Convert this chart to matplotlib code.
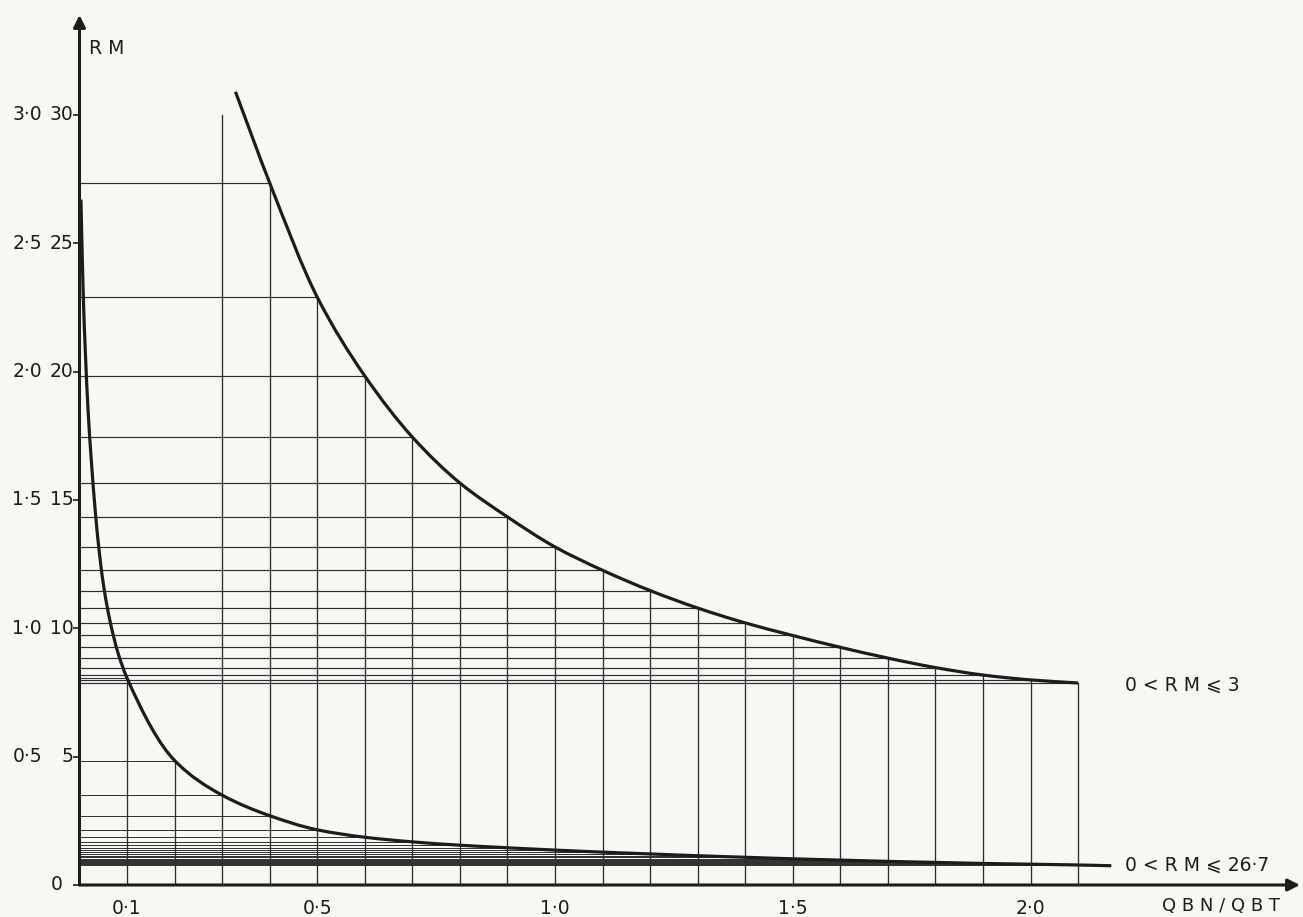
import matplotlib.pyplot as plt
from matplotlib.path import Path
from matplotlib.patches import PathPatch

# values
qbn_qbt = [0.1, 0.2, 0.3, 0.4, 0.5, 0.6, 0.7, 0.8, 0.9, 1.0, 1.1,
           1.2, 1.3, 1.4, 1.5, 1.6, 1.7, 1.8, 1.9, 2.0, 2.1]
# curve 0 < RM <= 3 (read on the 0-3.0 scale), from QBN/QBT = 0.4
rm_upper = [2.735, 2.29, 1.983, 1.745, 1.566, 1.434, 1.317, 1.226,
            1.147, 1.079, 1.021, 0.972, 0.926, 0.884, 0.847, 0.818, 0.799, 0.787]
upper_start = (0.328, 3.09)
# curve 0 < RM <= 26.7 (read on the 0-30 scale)
rm_lower = [8.06, 4.85, 3.5, 2.70, 2.15, 1.86, 1.68, 1.55, 1.45, 1.36, 1.28,
            1.21, 1.14, 1.08, 1.02, 0.97, 0.92, 0.88, 0.84, 0.81, 0.78]
# steep start of the lower curve, next to the RM axis
head_x = [0.003, 0.008, 0.012, 0.018, 0.025, 0.033, 0.042, 0.052, 0.064, 0.08]
head_rm = [26.7, 22.9, 20.9, 18.5, 16.5, 14.6, 12.9, 11.5, 10.3, 9.1]
lower_end = (2.17, 0.75)

y_ticks = [0, 5, 10, 15, 20, 25, 30]
y_left = ['', '0·5', '1·0', '1·5', '2·0', '2·5', '3·0']
x_ticks = [0.1, 0.5, 1.0, 1.5, 2.0]
x_labels = ['0·1', '0·5', '1·0', '1·5', '2·0']

INK = '#1c1c1c'
GRID = '#2e2e2e'
PAPER = '#f7f7f4'
plt.rcParams['font.family'] = ['DejaVu Sans']


def smooth_curve(xs, ys):
    # monotone cubic through the read points, written as bezier segments
    n = len(xs)
    h = [xs[i + 1] - xs[i] for i in range(n - 1)]
    d = [(ys[i + 1] - ys[i]) / h[i] for i in range(n - 1)]
    m = [d[0]]
    for k in range(1, n - 1):
        if d[k - 1] * d[k] <= 0:
            m.append(0.0)
        else:
            w1 = 2 * h[k] + h[k - 1]
            w2 = h[k] + 2 * h[k - 1]
            m.append((w1 + w2) / (w1 / d[k - 1] + w2 / d[k]))
    m.append(d[-1])
    verts = [(xs[0], ys[0])]
    codes = [Path.MOVETO]
    for i in range(n - 1):
        verts += [(xs[i] + h[i] / 3, ys[i] + m[i] * h[i] / 3),
                  (xs[i + 1] - h[i] / 3, ys[i + 1] - m[i + 1] * h[i] / 3),
                  (xs[i + 1], ys[i + 1])]
        codes += [Path.CURVE4] * 3
    return Path(verts, codes)


fig = plt.figure(figsize=(13.03, 9.17), dpi=100, facecolor=PAPER)
ax = fig.add_axes([79.5 / 1303, 32 / 917, (1300 - 79.5) / 1303, 870 / 917])
ax.set_facecolor(PAPER)
xmax = (1300 - 79.5) / 475.5
ymax = 870 / 25.67
ax.set_xlim(0, xmax)
ax.set_ylim(0, ymax)
for s in ax.spines.values():
    s.set_visible(False)
ax.set_xticks([])
ax.set_yticks(y_ticks)
ax.set_yticklabels([])
ax.tick_params(axis='y', length=5, width=1.2, color=INK, direction='out')

# lower curve on the 0-30 scale
lx = head_x + qbn_qbt + [lower_end[0]]
ly = head_rm + rm_lower + [lower_end[1]]
ax.add_patch(PathPatch(smooth_curve(lx, ly), fill=False, ec=INK, lw=2.3,
                       capstyle='butt', zorder=4, clip_on=False))

# upper curve on the 0-3.0 scale (drawn x10)
ux = [upper_start[0]] + qbn_qbt[3:]
uy = [upper_start[1] * 10] + [v * 10 for v in rm_upper]
ax.add_patch(PathPatch(smooth_curve(ux, uy), fill=False, ec=INK, lw=2.3,
                       capstyle='butt', zorder=4, clip_on=False))

# construction grid
upper_at = dict(zip(qbn_qbt[3:], rm_upper))
for x, v in zip(qbn_qbt, rm_lower):
    if x in upper_at:
        top = upper_at[x] * 10
        ax.plot([0, x], [top, top], color=GRID, lw=0.85, zorder=2)
    elif x >= 0.3:
        top = 30          # RM <= 3 cap
    else:
        top = v
    ax.plot([x, x], [0, top], color=GRID, lw=0.95, zorder=2)
    ax.plot([0, x], [v, v], color=GRID, lw=0.7, zorder=2)

# axes with arrow heads
arrow = dict(arrowstyle='-|>', color=INK, lw=2.2, mutation_scale=18,
             shrinkA=0, shrinkB=0)
ax.annotate('', xy=(0, ymax), xytext=(0, 0), arrowprops=arrow, annotation_clip=False)
ax.annotate('', xy=(xmax, 0), xytext=(0, 0), arrowprops=arrow, annotation_clip=False)

fs = 13.5
for t, lab in zip(y_ticks, y_left):
    ax.text(-0.079, t, lab, ha='right', va='center', fontsize=fs, color=INK, clip_on=False)
    if t > 0:
        ax.text(-0.012, t, str(t), ha='right', va='center', fontsize=fs, color=INK, clip_on=False)
ax.text(-0.047, 0, '0', ha='center', va='center', fontsize=fs, color=INK, clip_on=False)
for t, lab in zip(x_ticks, x_labels):
    ax.text(t, -0.9, lab, ha='center', va='center', fontsize=fs, color=INK, clip_on=False)

ax.text(0.058, 32.6, 'R M', ha='center', va='center', fontsize=fs, color=INK)
ax.text(2.401, -0.82, 'Q B N / Q B T', ha='center', va='center', fontsize=fs - 0.5,
        color=INK, clip_on=False)
ax.text(2.199, 7.79, '0 < R M ⩽ 3', ha='left', va='center', fontsize=fs, color=INK)
ax.text(2.199, 0.78, '0 < R M ⩽ 26·7', ha='left', va='center', fontsize=fs, color=INK)

fig.savefig('out.png', dpi=100, facecolor=PAPER)
